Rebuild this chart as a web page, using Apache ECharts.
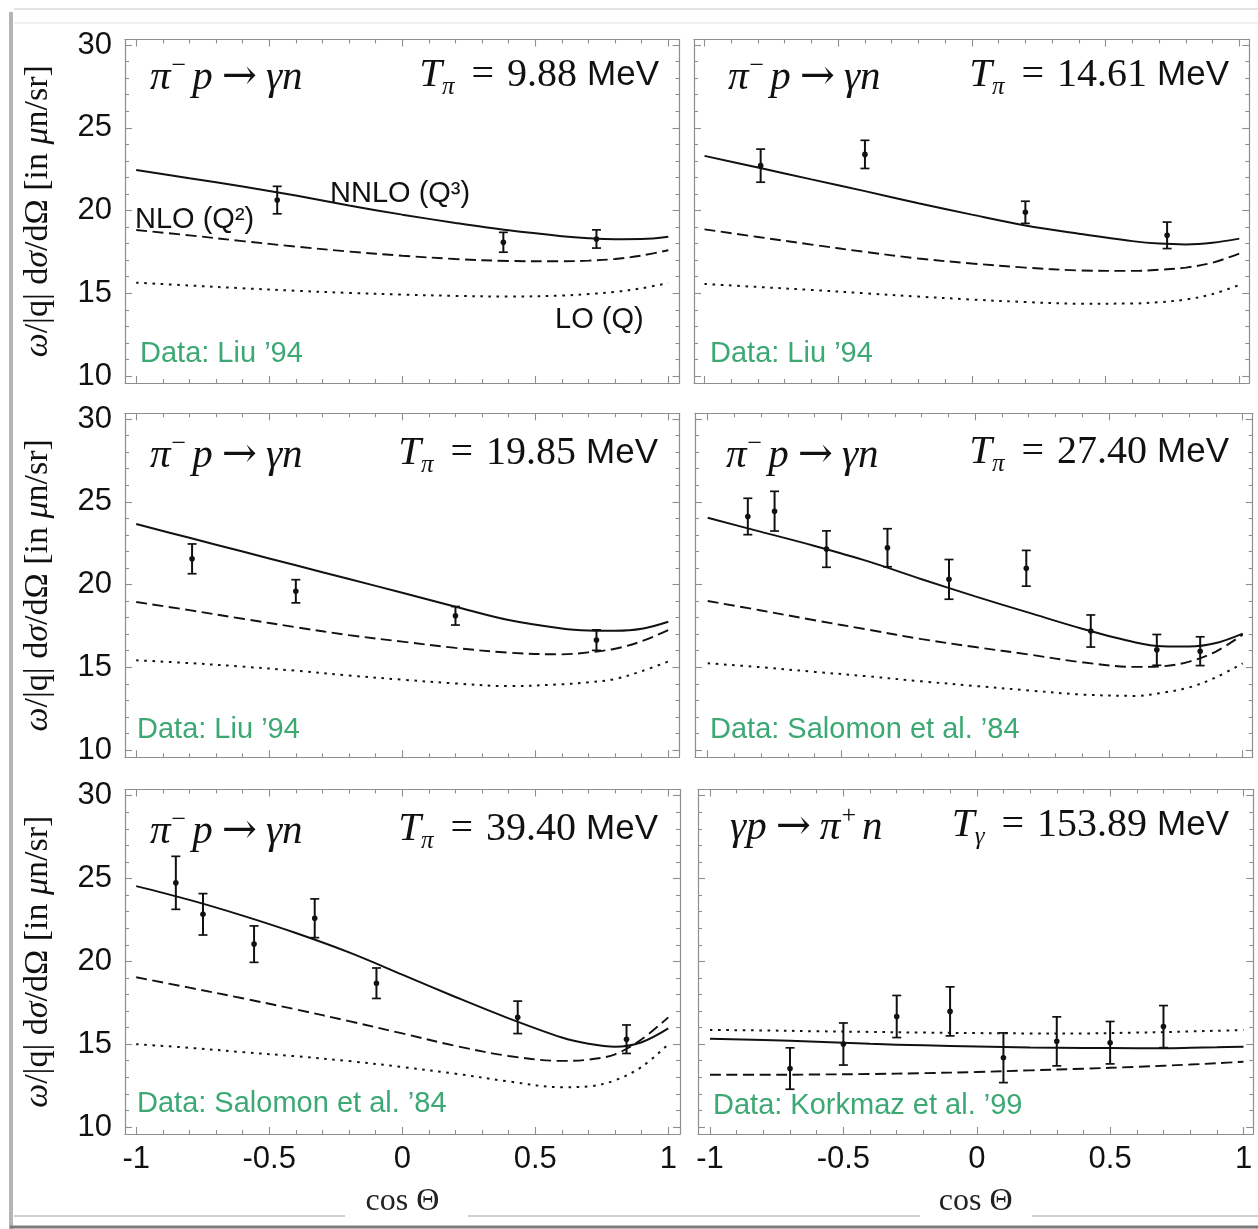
<!DOCTYPE html>
<html><head><meta charset="utf-8">
<script src="https://cdn.jsdelivr.net/npm/echarts@6/dist/echarts.min.js"></script>
<style>html,body{margin:0;padding:0;background:#fff}#c{width:1258px;height:1229px}</style>
</head><body><div id="c"></div>
<script>
// ---------- data ----------
const CURVE_X = [-1, -0.8, -0.6, -0.4, -0.2, 0, 0.2, 0.4, 0.6, 0.7, 0.8, 0.9, 1];
const X_TICKS = [-1, -0.5, 0, 0.5, 1];
const Y_TICKS = [10, 15, 20, 25, 30];

// Panel 1: pi- p -> gamma n, T = 9.88 MeV
const P1_NNLO = [22.45, 21.95, 21.45, 20.9, 20.3, 19.75, 19.25, 18.8, 18.45, 18.33, 18.27, 18.28, 18.42];
const P1_NLO  = [18.82, 18.5, 18.15, 17.82, 17.52, 17.27, 17.07, 16.95, 16.93, 16.97, 17.07, 17.28, 17.6];
const P1_LO   = [15.64, 15.47, 15.3, 15.15, 15.02, 14.92, 14.84, 14.8, 14.86, 14.95, 15.08, 15.3, 15.62];
const P1_DX = [-0.47, 0.38, 0.73];
const P1_DY = [20.63, 18.08, 18.28];
const P1_DE = [0.83, 0.6, 0.55];

// Panel 2: T = 14.61 MeV
const P2_NNLO = [23.3, 22.6, 21.88, 21.17, 20.44, 19.75, 19.1, 18.6, 18.15, 18.0, 17.95, 18.05, 18.3];
const P2_NLO  = [18.86, 18.4, 17.94, 17.5, 17.1, 16.8, 16.55, 16.38, 16.35, 16.42, 16.55, 16.85, 17.4];
const P2_LO   = [15.56, 15.38, 15.2, 15.0, 14.8, 14.62, 14.47, 14.37, 14.38, 14.46, 14.62, 14.95, 15.5];
const P2_DX = [-0.79, -0.4, 0.2, 0.73];
const P2_DY = [22.71, 23.39, 19.89, 18.5];
const P2_DE = [1.0, 0.85, 0.67, 0.8];

// Panel 3: T = 19.85 MeV
const P3_NNLO = [23.65, 22.82, 21.99, 21.16, 20.33, 19.5, 18.66, 17.85, 17.34, 17.22, 17.2, 17.32, 17.75];
const P3_NLO  = [18.94, 18.45, 17.93, 17.42, 16.94, 16.55, 16.17, 15.88, 15.78, 15.9, 16.12, 16.57, 17.24];
const P3_LO   = [15.42, 15.25, 15.04, 14.79, 14.5, 14.25, 14.02, 13.86, 13.97, 14.09, 14.29, 14.76, 15.35];
const P3_DX = [-0.79, -0.4, 0.2, 0.73];
const P3_DY = [21.55, 19.59, 18.11, 16.64];
const P3_DE = [0.9, 0.7, 0.56, 0.62];

// Panel 4: T = 27.40 MeV
const P4_NNLO = [24.03, 23.18, 22.33, 21.4, 20.32, 19.28, 18.3, 17.33, 16.5, 16.27, 16.25, 16.46, 17.03];
const P4_NLO  = [19.0, 18.43, 17.84, 17.27, 16.7, 16.22, 15.77, 15.3, 15.02, 15.06, 15.34, 15.95, 16.97];
const P4_LO   = [15.24, 15.0, 14.72, 14.45, 14.15, 13.87, 13.6, 13.35, 13.27, 13.46, 13.78, 14.39, 15.24];
const P4_DX = [-0.85, -0.75, -0.556, -0.328, -0.098, 0.191, 0.432, 0.679, 0.841];
const P4_DY = [24.11, 24.43, 22.14, 22.22, 20.31, 20.98, 17.19, 16.05, 15.97];
const P4_DE = [1.1, 1.2, 1.1, 1.15, 1.2, 1.08, 0.97, 0.93, 0.87];

// Panel 5: T = 39.40 MeV
const P5_NNLO = [24.54, 23.71, 22.76, 21.71, 20.54, 19.2, 17.85, 16.56, 15.4, 15.03, 14.85, 15.12, 15.95];
const P5_NLO  = [19.04, 18.41, 17.77, 17.1, 16.39, 15.65, 14.9, 14.29, 13.99, 14.07, 14.39, 15.3, 16.62];
const P5_LO   = [15.0, 14.78, 14.52, 14.27, 13.98, 13.62, 13.22, 12.75, 12.4, 12.45, 12.82, 13.63, 15.0];
const P5_DX = [-0.851, -0.749, -0.557, -0.329, -0.097, 0.434, 0.843];
const P5_DY = [24.74, 22.84, 21.04, 22.6, 18.68, 16.62, 15.3];
const P5_DE = [1.6, 1.25, 1.1, 1.17, 0.92, 0.98, 0.86];

// Panel 6: gamma p -> pi+ n, T = 153.89 MeV
const P6_NNLO = [15.32, 15.25, 15.15, 15.02, 14.93, 14.86, 14.8, 14.77, 14.76, 14.76, 14.78, 14.81, 14.85];
const P6_NLO  = [13.15, 13.15, 13.17, 13.2, 13.25, 13.32, 13.42, 13.52, 13.63, 13.7, 13.77, 13.85, 13.94];
const P6_LO   = [15.86, 15.83, 15.78, 15.74, 15.7, 15.67, 15.65, 15.65, 15.7, 15.73, 15.77, 15.81, 15.86];
const P6_DX = [-0.7, -0.5, -0.3, -0.1, 0.1, 0.3, 0.5, 0.7];
const P6_DY = [13.53, 15.01, 16.67, 16.98, 14.18, 15.17, 15.09, 16.06];
const P6_DE = [1.25, 1.27, 1.27, 1.48, 1.5, 1.48, 1.28, 1.27];

const REACTIONS = ['{i|π}{sup|−}{i|p}{a|→}{i|γn}', '{i|π}{sup|−}{i|p}{a|→}{i|γn}', '{i|π}{sup|−}{i|p}{a|→}{i|γn}',
                   '{i|π}{sup|−}{i|p}{a|→}{i|γn}', '{i|π}{sup|−}{i|p}{a|→}{i|γn}', '{i|γp}{a|→}{i|π}{sup|+}{i|n}'];
const ENERGY_SYM = ['π', 'π', 'π', 'π', 'π', 'γ'];
const ENERGY_VAL = ['9.88', '14.61', '19.85', '27.40', '39.40', '153.89'];
const SOURCES = ['Data: Liu ’94', 'Data: Liu ’94', 'Data: Liu ’94', 'Data: Salomon et al. ’84', 'Data: Salomon et al. ’84', 'Data: Korkmaz et al. ’99'];

// ---------- layout / style ----------
const SANS = 'Liberation Sans, Arial, sans-serif';
const SERIF = 'Liberation Serif, Times New Roman, serif';
const FRAME = '#8e8e8e';
const INK = '#111';
const GREEN = '#3ca873';

const LAYOUT = [
  {l:125, r:679.5, xm1:136.2, x1:668.3, t:39.5, b:383, y30:45,    y10:376},
  {l:694, r:1249.3, xm1:704.5, x1:1239.3, t:39.5, b:383, y30:45,  y10:376},
  {l:125, r:679.5, xm1:136.2, x1:668.3, t:413.3, b:757.3, y30:419, y10:750},
  {l:695, r:1252.7, xm1:707.7, x1:1242.7, t:413.3, b:757.3, y30:419, y10:750},
  {l:125, r:680, xm1:136.2, x1:668.3, t:789.5, b:1134, y30:795.7, y10:1127},
  {l:698, r:1253.3, xm1:710, x1:1243.5, t:789.5, b:1134, y30:795.7, y10:1127}
];
const TITLE_POS = [
  {lx:150, ly:78, rx:659, ry:75, sx:140, sy:354},
  {lx:728, ly:78, rx:1229, ry:75, sx:710, sy:354},
  {lx:150, ly:456, rx:658, ry:453, sx:137, sy:730},
  {lx:726, ly:456, rx:1229, ry:452, sx:710, sy:730},
  {lx:150, ly:832, rx:658, ry:829, sx:137, sy:1104},
  {lx:730, ly:828, rx:1229, ry:825, sx:713, sy:1106}
];

const PANELS = [
  {nnlo:P1_NNLO, nlo:P1_NLO, lo:P1_LO, dx:P1_DX, dy:P1_DY, de:P1_DE},
  {nnlo:P2_NNLO, nlo:P2_NLO, lo:P2_LO, dx:P2_DX, dy:P2_DY, de:P2_DE},
  {nnlo:P3_NNLO, nlo:P3_NLO, lo:P3_LO, dx:P3_DX, dy:P3_DY, de:P3_DE},
  {nnlo:P4_NNLO, nlo:P4_NLO, lo:P4_LO, dx:P4_DX, dy:P4_DY, de:P4_DE},
  {nnlo:P5_NNLO, nlo:P5_NLO, lo:P5_LO, dx:P5_DX, dy:P5_DY, de:P5_DE},
  {nnlo:P6_NNLO, nlo:P6_NLO, lo:P6_LO, dx:P6_DX, dy:P6_DY, de:P6_DE}
];

const X_MINOR = [];
for (let k = -10; k <= 10; k++) if (k % 5 !== 0) X_MINOR.push(k / 10);
const Y_MINOR = [];
for (let k = 10; k <= 30; k++) if (k % 5 !== 0) Y_MINOR.push(k);

const option = {backgroundColor:'#fff', animation:false, grid:[], xAxis:[], yAxis:[], series:[], graphic:[]};

function axisCommon(g, min, max) {
  return {type:'value', gridIndex:g, min:min, max:max, splitLine:{show:false},
          axisLine:{show:false, onZero:false}, axisLabel:{show:false}, axisTick:{show:false}};
}
function frameLine() {
  return {show:true, onZero:false, lineStyle:{color:FRAME, width:1.2}};
}
function ticks(vals, len) {
  return {show:true, inside:true, length:len, customValues:vals, lineStyle:{color:FRAME, width:1.1}};
}

const Y_NAME_RICH = {
  i:{fontFamily:SERIF, fontStyle:'italic', fontSize:34, color:INK},
  r:{fontFamily:SERIF, fontSize:34, color:INK}
};

PANELS.forEach((P, g) => {
  const L = LAYOUT[g];
  const pxx = (L.x1 - L.xm1) / 2, pxy = (L.y10 - L.y30) / 20;
  const xmin = -1 - (L.xm1 - L.l) / pxx, xmax = 1 + (L.r - L.x1) / pxx;
  const ymax = 30 + (L.y30 - L.t) / pxy, ymin = 10 - (L.b - L.y10) / pxy;
  const bottomRow = g >= 4, leftCol = g % 2 === 0;
  option.grid.push({left:L.l, top:L.t, width:L.r - L.l, height:L.b - L.t, containLabel:false});
  const xi = option.xAxis.length, yi = option.yAxis.length;

  // X axes: bottom main (frame line, major ticks, labels), top main, bottom minor, top minor
  option.xAxis.push(Object.assign(axisCommon(g, xmin, xmax), {
    position:'bottom',
    axisLine:frameLine(),
    axisTick:ticks(X_TICKS, 7),
    axisLabel:{show:bottomRow, customValues:X_TICKS, fontSize:31, fontFamily:SANS, color:INK, margin:10},
    name:bottomRow ? 'cos Θ' : '', nameLocation:'middle', nameGap:52,
    nameTextStyle:{fontFamily:SERIF, fontSize:32, color:'#222'}
  }));
  option.xAxis.push(Object.assign(axisCommon(g, xmin, xmax), {
    position:'top', axisLine:frameLine(), axisTick:ticks(X_TICKS, 7)}));
  option.xAxis.push(Object.assign(axisCommon(g, xmin, xmax), {position:'bottom', axisTick:ticks(X_MINOR, 4)}));
  option.xAxis.push(Object.assign(axisCommon(g, xmin, xmax), {position:'top', axisTick:ticks(X_MINOR, 4)}));

  // Y axes
  option.yAxis.push(Object.assign(axisCommon(g, ymin, ymax), {
    position:'left',
    axisLine:frameLine(),
    axisTick:ticks(Y_TICKS, 7),
    axisLabel:{show:leftCol, customValues:Y_TICKS, fontSize:31, fontFamily:SANS, color:INK, margin:13},
    name:leftCol ? '{i|ω}{r|/|q| d}{i|σ}{r|/dΩ [in }{i|μ}{r|n/sr]}' : '',
    nameLocation:'middle', nameRotate:90, nameGap:70,
    nameTextStyle:{rich:Y_NAME_RICH, fontFamily:SERIF, fontSize:34, color:INK}
  }));
  option.yAxis.push(Object.assign(axisCommon(g, ymin, ymax), {
    position:'right', axisLine:frameLine(), axisTick:ticks(Y_TICKS, 7)}));
  option.yAxis.push(Object.assign(axisCommon(g, ymin, ymax), {position:'left', axisTick:ticks(Y_MINOR, 4)}));
  option.yAxis.push(Object.assign(axisCommon(g, ymin, ymax), {position:'right', axisTick:ticks(Y_MINOR, 4)}));

  const curves = [[P.nnlo, 'solid', 2], [P.nlo, [11, 5.5], 1.9], [P.lo, [2.6, 5.6], 2]];
  curves.forEach(([vals, type, w]) => {
    option.series.push({
      type:'line', xAxisIndex:xi, yAxisIndex:yi, silent:true, showSymbol:false, symbol:'none',
      smooth:0.35, clip:false,
      data:CURVE_X.map((x, i) => [x, vals[i]]),
      lineStyle:{color:INK, width:w, type:type}
    });
  });

  option.series.push({
    type:'custom', xAxisIndex:xi, yAxisIndex:yi, silent:true,
    data:P.dx.map((x, i) => [x, P.dy[i], P.de[i]]),
    encode:{x:0, y:1},
    renderItem:function (params, api) {
      const x = api.value(0), y = api.value(1), e = api.value(2);
      const p = api.coord([x, y]);
      const t = api.coord([x, y + e])[1], b = api.coord([x, y - e])[1];
      const cw = 4.5;
      return {type:'group', children:[
        {type:'line', shape:{x1:p[0], y1:t, x2:p[0], y2:b}, style:{stroke:INK, lineWidth:2}},
        {type:'line', shape:{x1:p[0] - cw, y1:t, x2:p[0] + cw, y2:t}, style:{stroke:INK, lineWidth:1.7}},
        {type:'line', shape:{x1:p[0] - cw, y1:b, x2:p[0] + cw, y2:b}, style:{stroke:INK, lineWidth:1.7}},
        {type:'circle', shape:{cx:p[0], cy:p[1], r:2.8}, style:{fill:INK}}
      ]};
    }
  });

  const T = TITLE_POS[g];
  const rich = {
    i:{fontFamily:SERIF, fontStyle:'italic', fontSize:41, lineHeight:50, fill:INK},
    r:{fontFamily:SERIF, fontSize:40, lineHeight:50, fill:INK},
    e:{fontFamily:SERIF, fontSize:40, lineHeight:50, fill:INK, padding:[0, 13, 0, 13]},
    a:{fontFamily:'DejaVu Serif, serif', fontSize:42, lineHeight:50, fill:INK, padding:[0, 9, 0, 9]},
    sup:{fontFamily:SERIF, fontSize:26, lineHeight:26, verticalAlign:'top', fill:INK, padding:[0, 6, 0, 1]},
    sub:{fontFamily:SERIF, fontStyle:'italic', fontSize:25, lineHeight:22, verticalAlign:'bottom', fill:INK, padding:[0, 4, 0, 0]},
    s:{fontFamily:SANS, fontSize:35, lineHeight:50, fill:INK, padding:[0, 0, 0, 10]}
  };
  option.graphic.push({type:'text', x:T.lx, y:T.ly, silent:true,
    style:{text:REACTIONS[g], rich:rich, fill:INK, align:'left', textAlign:'left', verticalAlign:'middle', textVerticalAlign:'middle'}});
  option.graphic.push({type:'text', x:T.rx, y:T.ry, silent:true,
    style:{text:'{i|T}{sub|' + ENERGY_SYM[g] + '}{e|=}{r|' + ENERGY_VAL[g] + '}{s|MeV}', rich:rich, fill:INK,
           align:'right', textAlign:'right', verticalAlign:'middle', textVerticalAlign:'middle'}});
  option.graphic.push({type:'text', x:T.sx, y:T.sy, silent:true,
    style:{text:SOURCES[g], fill:GREEN, font:'29px ' + SANS, align:'left', textAlign:'left', verticalAlign:'middle', textVerticalAlign:'middle'}});
});

// order labels in panel 1
const ORDER_LABELS = [
  {t:'NNLO (Q³)', x:330, y:194},
  {t:'NLO (Q²)', x:135, y:220},
  {t:'LO (Q)', x:555, y:320}
];
ORDER_LABELS.forEach(o => option.graphic.push({type:'text', x:o.x, y:o.y, silent:true,
  style:{text:o.t, fill:INK, font:'29px ' + SANS, align:'left', textAlign:'left', verticalAlign:'middle', textVerticalAlign:'middle'}}));

// page decorations (scanned frame edges)
option.graphic.push(
  {type:'rect', z:-10, shape:{x:9, y:12, width:4, height:1217}, style:{fill:'#b4b4b4'}},
  {type:'line', z:-10, shape:{x1:14, y1:9, x2:1258, y2:9}, style:{stroke:'#e4e4e4', lineWidth:2}},
  {type:'line', z:-10, shape:{x1:14, y1:23, x2:1258, y2:23}, style:{stroke:'#f0f0f0', lineWidth:2}},
  {type:'line', z:-10, shape:{x1:14, y1:1216, x2:345, y2:1216}, style:{stroke:'#cfcfcf', lineWidth:2}},
  {type:'line', z:-10, shape:{x1:468, y1:1216, x2:920, y2:1216}, style:{stroke:'#cfcfcf', lineWidth:2}},
  {type:'line', z:-10, shape:{x1:1032, y1:1216, x2:1258, y2:1216}, style:{stroke:'#cfcfcf', lineWidth:2}},
  {type:'line', z:-10, shape:{x1:10, y1:1227, x2:1258, y2:1227}, style:{stroke:'#7a7a7a', lineWidth:3}}
);

const chart = echarts.init(document.getElementById('c'), null, {renderer:'canvas'});
chart.setOption(option);
</script></body></html>
